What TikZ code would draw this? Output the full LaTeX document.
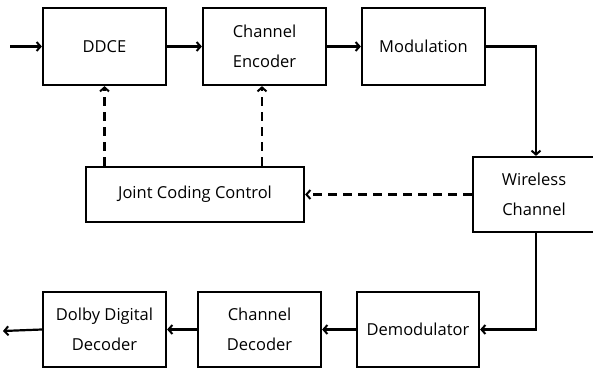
\documentclass[tikz,border=0pt]{standalone}
\usepackage{fontspec}
\setmainfont{Open Sans}
\usetikzlibrary{arrows.meta}
\begin{document}
\begin{tikzpicture}[x=1pt,y=-1pt,
  blk/.style={draw,line width=2.2pt,inner sep=0pt,align=center,font=\fontsize{16.5}{30}\selectfont},
  conn/.style={line width=2.2pt,-{Straight Barb[length=4pt,width=9pt,line width=2pt]}},
  dconn/.style={conn,dash pattern=on 9pt off 6pt}]
\useasboundingbox (0,0) rectangle (593,369);
\node[blk,minimum width=123pt,minimum height=77pt] (ddce) at (104.5,46.5) {DDCE};
\node[blk,minimum width=123pt,minimum height=77pt] (enc) at (264.5,46.5) {Channel\\Encoder};
\node[blk,minimum width=123pt,minimum height=77pt] (mod) at (423.5,46.5) {Modulation};
\node[blk,minimum width=122pt,minimum height=75pt] (wc) at (534,194.5) {Wireless\\Channel};
\node[blk,minimum width=218pt,minimum height=55pt] (jcc) at (195,194.5) {Joint Coding Control};
\node[blk,minimum width=123pt,minimum height=75pt] (ddd) at (104.5,329.5) {Dolby Digital\\Decoder};
\node[blk,minimum width=123pt,minimum height=75pt] (cd) at (259.5,329.5) {Channel\\Decoder};
\node[blk,minimum width=122pt,minimum height=75pt] (dem) at (418,329.5) {Demodulator};
\coordinate (in) at (10,46.5);
\coordinate (out) at (3,331);
\draw[conn] (in) -- (ddce);
\draw[conn] (ddce) -- (enc);
\draw[conn] (enc) -- (mod);
\draw[conn] (mod.east) -| (wc.north -| 536,0);
\draw[conn] (wc.south -| 536,0) |- (dem.east);
\draw[conn] (dem) -- (cd);
\draw[conn] (cd) -- (ddd);
\draw[conn] (ddd.west) -- (out);
\draw[dconn] (wc.west) -- (jcc.east);
\draw[dconn] (jcc.north -| ddce.south) -- (ddce.south);
\draw[dconn] (jcc.north -| 262,0) -- (enc.south -| 262,0);
\end{tikzpicture}
\end{document}
